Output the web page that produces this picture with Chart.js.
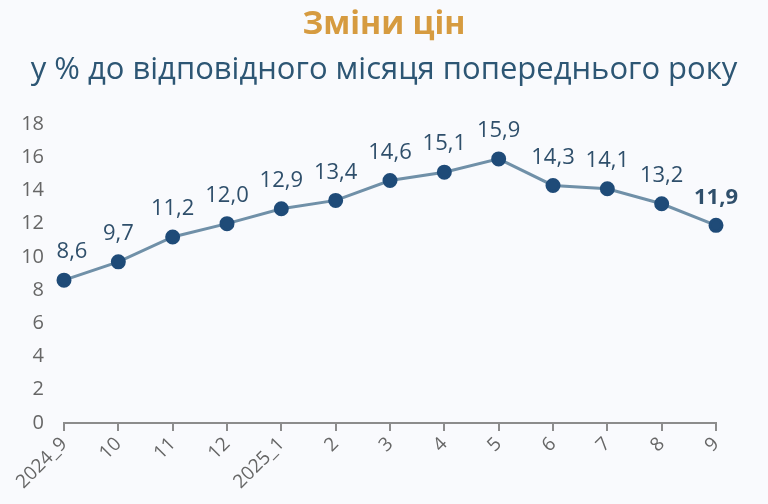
<!DOCTYPE html>
<html>
<head>
<meta charset="utf-8">
<script src="https://cdn.jsdelivr.net/npm/chart.js@4"></script>
<style>
  html, body { margin: 0; padding: 0; background: #f9fafd; }
  #wrap { position: relative; width: 768px; height: 504px; }
  .title { position: absolute; left: 0; width: 768px; text-align: center; font-family: "Open Sans", sans-serif; }
  #t1 { top: 0px; font-size: 32px; font-weight: bold; color: #d69b40; }
  #t2 { top: 46px; font-size: 31px; color: #2d5674; }
  canvas { position: absolute; left: 0; top: 0; }
</style>
</head>
<body>
<div id="wrap">
  <canvas id="chart" width="768" height="504"></canvas>
  <div class="title" id="t1">Зміни цін</div>
  <div class="title" id="t2">у % до відповідного місяця попереднього року</div>
</div>
<script>
const labels = ['2024_9', '10', '11', '12', '2025_1', '2', '3', '4', '5', '6', '7', '8', '9'];
const values = [8.6, 9.7, 11.2, 12.0, 12.9, 13.4, 14.6, 15.1, 15.9, 14.3, 14.1, 13.2, 11.9];

// підписи значень над точками
const valueLabels = {
  id: 'valueLabels',
  afterDatasetsDraw(chart) {
    const ctx = chart.ctx;
    const meta = chart.getDatasetMeta(0);
    ctx.save();
    ctx.textAlign = 'center';
    ctx.textBaseline = 'bottom';
    ctx.fillStyle = '#2f4f6b';
    meta.data.forEach((pt, i) => {
      const last = i === values.length - 1;
      ctx.font = (last ? 'bold ' : '') + '22px "Open Sans", sans-serif';
      const dx = i === 0 ? 8 : 0;
      ctx.fillText(values[i].toFixed(1).replace('.', ','), pt.x + dx, pt.y - 17);
    });
    ctx.restore();
  }
};

new Chart(document.getElementById('chart'), {
  type: 'line',
  data: {
    labels: labels,
    datasets: [{
      data: values,
      borderColor: '#7090a8',
      borderWidth: 3,
      pointBackgroundColor: '#1f4b78',
      pointBorderColor: '#1f4b78',
      pointRadius: 6,
      tension: 0
    }]
  },
  options: {
    responsive: false,
    animation: false,
    layout: { padding: { top: 124, right: 52, left: 0, bottom: 0 } },
    plugins: { legend: { display: false }, tooltip: { enabled: false } },
    scales: {
      x: {
        offset: false,
        grid: { drawOnChartArea: false, drawTicks: true, tickLength: 8, color: '#8c8c8c', lineWidth: 2 },
        border: { display: true, color: '#8c8c8c', width: 2 },
        ticks: {
          color: '#666666',
          font: { family: '"Open Sans", sans-serif', size: 19 },
          minRotation: 45, maxRotation: 45,
          padding: 2
        },
        afterFit: s => { s.height = 81; }
      },
      y: {
        min: 0, max: 18,
        grid: { display: false },
        border: { display: false },
        ticks: {
          stepSize: 2,
          color: '#666666',
          font: { family: '"Open Sans", sans-serif', size: 20 },
          padding: 12
        },
        afterFit: s => { s.width = 64; }
      }
    }
  },
  plugins: [valueLabels]
});
</script>
</body>
</html>
